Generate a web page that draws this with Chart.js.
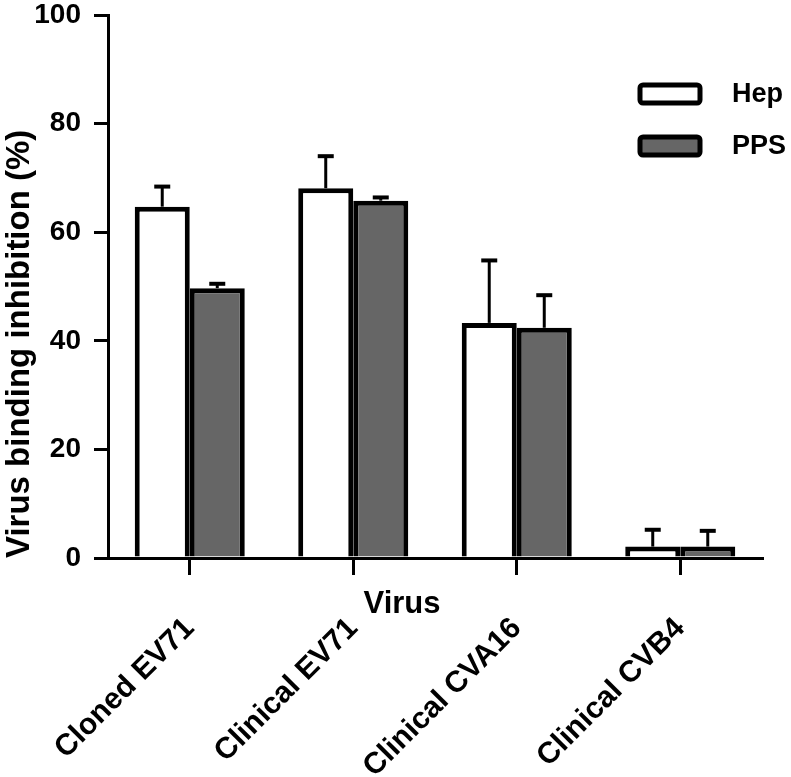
<!DOCTYPE html>
<html>
<head>
<meta charset="utf-8">
<script src="https://cdn.jsdelivr.net/npm/chart.js@4"></script>
<style>
  html, body { margin: 0; padding: 0; background: #fff; }
</style>
</head>
<body>
<canvas id="binding" width="791" height="777"></canvas>
<script>
(function(){
    const categories = ['Cloned EV71', 'Clinical EV71', 'Clinical CVA16', 'Clinical CVB4'];
    const hepValues = [64.7, 68.1, 43.3, 2.1];
    const hepErrors = [3.7, 5.9, 11.5, 3.1];
    const ppsValues = [49.7, 65.8, 42.4, 2.1];
    const ppsErrors = [0.8, 0.6, 6.0, 2.9];
    const yTicks = [0, 20, 40, 60, 80, 100];

    const FONT = "'Liberation Sans', Arial, sans-serif";

    // upward-only error bars, drawn from each bar's top
    const errorBars = {
        id: 'errorBars',
        afterDatasetsDraw(chart){
            const c = chart.ctx;
            const y = chart.scales.y;
            c.save();
            c.strokeStyle = '#000';
            chart.data.datasets.forEach((ds, di) => {
                const meta = chart.getDatasetMeta(di);
                meta.data.forEach((bar, i) => {
                    const top = y.getPixelForValue(ds.data[i] + ds.errors[i]);
                    c.lineWidth = 3;
                    c.beginPath();
                    c.moveTo(bar.x, bar.y);
                    c.lineTo(bar.x, top);
                    c.stroke();
                    c.lineWidth = 4;
                    c.beginPath();
                    c.moveTo(bar.x - 8, top);
                    c.lineTo(bar.x + 8, top);
                    c.stroke();
                });
            });
            c.restore();
        }
    };

    // legend boxes and the "Virus" title sit where Prism put them
    const extras = {
        id: 'extras',
        afterDraw(chart){
            const c = chart.ctx;
            c.save();
            c.fillStyle = '#000';
            c.font = "bold 31px " + FONT;
            c.textAlign = 'center';
            c.textBaseline = 'middle';
            c.fillText('Virus', 402, 604);

            c.font = "bold 27px " + FONT;
            c.textAlign = 'left';
            chart.data.datasets.forEach((ds, di) => {
                const cy = 94 + di * 52;
                c.beginPath();
                c.roundRect(640, cy - 9, 60, 18, 3);
                c.fillStyle = ds.backgroundColor;
                c.fill();
                c.lineWidth = 5;
                c.strokeStyle = '#000';
                c.stroke();
                c.fillStyle = '#000';
                c.fillText(ds.label, 732, cy + 1);
            });
            c.restore();
        }
    };

    const ctx = document.getElementById('binding').getContext('2d');
    new Chart(ctx, {
        type: 'bar',
        data: {
            labels: categories,
            datasets: [{
                label: 'Hep',
                data: hepValues,
                errors: hepErrors,
                backgroundColor: '#ffffff',
                borderColor: '#000',
                borderWidth: 5
            }, {
                label: 'PPS',
                data: ppsValues,
                errors: ppsErrors,
                backgroundColor: '#666666',
                borderColor: '#000',
                borderWidth: 5
            }]
        },
        options: {
            responsive: false,
            animation: false,
            layout: { padding: { left: 0, top: 15, right: 29, bottom: 0 } },
            categoryPercentage: 0.673,
            barPercentage: 1,
            plugins: {
                legend: { display: false },
                tooltip: { enabled: false }
            },
            scales: {
                x: {
                    grid: {
                        offset: false,
                        drawOnChartArea: false,
                        color: '#000',
                        lineWidth: 3,
                        tickLength: 17
                    },
                    border: { color: '#000', width: 3 },
                    ticks: {
                        color: '#000',
                        font: { family: FONT, size: 30, weight: 'bold' },
                        maxRotation: 45,
                        minRotation: 45,
                        padding: 36
                    },
                    afterFit(scale){
                        scale.height = 219;
                        scale.paddingLeft = 0;
                        scale.paddingRight = 0;
                    }
                },
                y: {
                    min: 0,
                    max: 100,
                    afterBuildTicks(scale){ scale.ticks = yTicks.map(v => ({ value: v })); },
                    grid: {
                        drawOnChartArea: false,
                        color: '#000',
                        lineWidth: 3,
                        tickLength: 14
                    },
                    border: { color: '#000', width: 3 },
                    ticks: {
                        color: '#000',
                        padding: 13,
                        font: { family: FONT, size: 28, weight: 'bold' }
                    },
                    title: {
                        display: true,
                        text: 'Virus binding inhibition (%)',
                        color: '#000',
                        align: 'start',
                        padding: 0,
                        font: { family: FONT, size: 33, weight: 'bold' }
                    },
                    afterFit(scale){
                        scale.width = 108;
                        scale.paddingTop = 0;
                        scale.paddingBottom = 0;
                    }
                }
            }
        },
        plugins: [errorBars, extras]
    });
}())
</script>
</body>
</html>
